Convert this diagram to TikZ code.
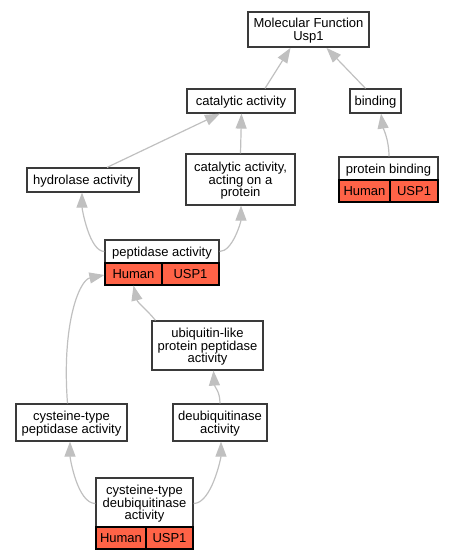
\documentclass[tikz,border=0pt]{standalone}
\usepackage{fontspec}
\setmainfont{Liberation Sans}
\usetikzlibrary{arrows.meta}
\definecolor{boxborder}{HTML}{3A3A3A}
\definecolor{edgegray}{HTML}{C0C0C0}
\definecolor{cellred}{HTML}{FF6347}
\tikzset{
  term/.style={draw=boxborder, line width=1.2pt, fill=white, inner sep=0pt, align=center,
    font=\fontsize{13}{12.5}\selectfont, text depth=0pt},
  cell/.style={draw=black, line width=1.2pt, fill=cellred, inner sep=0pt,
    font=\fontsize{13}{12.5}\selectfont},
  edge/.style={draw=edgegray, line width=1.2pt, -{Triangle[length=15pt,width=11pt]}},
}
\begin{document}
\begin{tikzpicture}[x=1pt,y=-1pt]
\useasboundingbox (0,0) rectangle (452,560);
% nodes
\node[term, line width=1.8pt, minimum width=121pt, minimum height=35pt] (mf) at (308.5,29.5) {Molecular Function\\Usp1};
\node[term, minimum width=108pt, minimum height=24pt] (cat) at (241,101) {catalytic activity};
\node[term, minimum width=51pt, minimum height=24pt] (bind) at (375.5,101) {binding};
\node[term, minimum width=112pt, minimum height=24pt] (hyd) at (83,180) {hydrolase activity};
\node[term, minimum width=109pt, minimum height=51pt] (catp) at (240.5,179.5) {catalytic activity,\\acting on a\\protein};
% protein binding
\node[term, minimum width=99pt, minimum height=23pt] (pb) at (388.5,168.5) {protein binding};
\node[cell, minimum width=51pt, minimum height=22pt] (pbh) at (364.5,191) {Human};
\node[cell, minimum width=48pt, minimum height=22pt] (pbu) at (414,191) {USP1};
% peptidase activity
\node[term, minimum width=114pt, minimum height=23pt] (pep) at (162,251.5) {peptidase activity};
\node[cell, minimum width=57pt, minimum height=22pt] (peph) at (133.5,274) {Human};
\node[cell, minimum width=57pt, minimum height=22pt] (pepu) at (190.5,274) {USP1};
\node[term, minimum width=111pt, minimum height=49pt] (ubl) at (207.5,345.5) {ubiquitin-like\\protein peptidase\\activity};
\node[term, minimum width=111pt, minimum height=37pt] (ctp) at (71.5,422.5) {cysteine-type\\peptidase activity};
\node[term, minimum width=94pt, minimum height=37pt] (deub) at (220,422.5) {deubiquitinase\\activity};
% cysteine-type deubiquitinase
\node[term, minimum width=97pt, minimum height=49pt] (ctd) at (144.5,502.5) {cysteine-type\\deubiquitinase\\activity};
\node[cell, minimum width=50pt, minimum height=22pt] (ctdh) at (121,538) {Human};
\node[cell, minimum width=47pt, minimum height=22pt] (ctdu) at (169.5,538) {USP1};
% edges
\draw[edge] ([xshift=24pt]cat.north) -- ([xshift=-18pt]mf.south);
\draw[edge] ([xshift=-10pt]bind.north) -- ([xshift=18pt]mf.south);
\draw[edge] ([xshift=24pt]hyd.north) -- ([xshift=-21pt]cat.south);
\draw[edge] (catp.north) -- ([xshift=0.5pt]cat.south);
\draw[edge] ([xshift=0.5pt]pb.north) .. controls +(0,-17) and +(2,14) .. ([xshift=5.5pt]bind.south);
\draw[edge] (pep.west) .. controls +(-15,0) and +(0,16) .. ([xshift=-1pt]hyd.south);
\draw[edge] (pep.east) .. controls +(13,0) and +(0,16) .. ([xshift=0.5pt]catp.south);
\draw[edge] ([xshift=-52pt]ubl.north) .. controls +(-8,-10) and +(4,17) .. ([xshift=0pt]peph.south);
\draw[edge] ([xshift=-4pt]ctp.north) .. controls +(-6,-80) and +(-25,5) .. ([yshift=-1pt]peph.west);
\draw[edge] ([xshift=0pt]deub.north) .. controls +(0,-12) and +(1,16) .. ([xshift=6pt]ubl.south);
\draw[edge] ([yshift=-1pt]ctd.west) .. controls +(-18,0) and +(0,16) .. ([xshift=-1.5pt]ctp.south);
\draw[edge] ([yshift=-1pt]ctd.east) .. controls +(18,0) and +(0,16) .. ([xshift=1pt]deub.south);
\end{tikzpicture}
\end{document}
